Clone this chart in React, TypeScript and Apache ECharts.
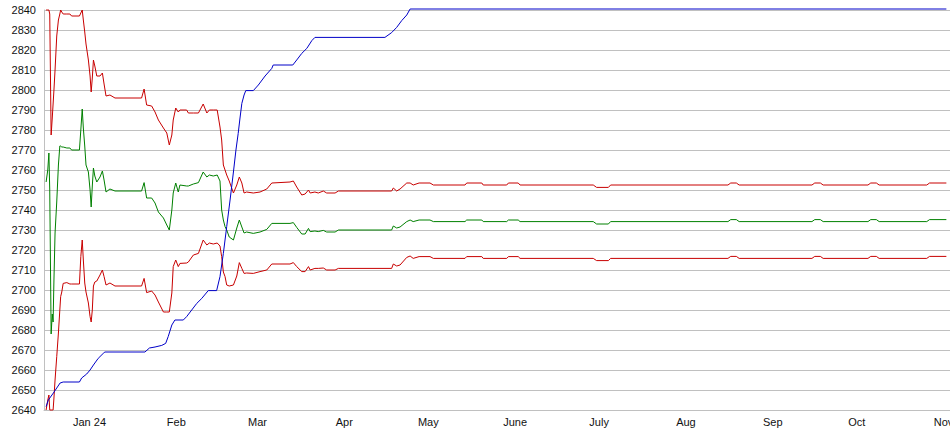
import React, { useEffect, useRef } from "react";
import * as echarts from "echarts";

// x values are days counted from 1 Jan 2024
const monthLabels = ["Jan 24", "Feb", "Mar", "Apr", "May", "June", "July", "Aug", "Sep", "Oct", "Nov"];
const monthStartDays = [0, 31, 60, 91, 121, 152, 182, 213, 244, 274, 305];

const bandDays = [
  -15.5, -14.9, -14.5, -14.2, -13.7, -13.3, -13.0, -12.7, -12.3, -11.7,
  -11.1, -10.6, -10.3, -9.9, -9.4, -8.1, -7.0, -6.4, -3.6, -3.1,
  -2.6, -2.2, -1.7, -1.25, -0.4, 0.2, 0.6, 1.0, 1.4, 1.9,
  2.6, 3.75, 4.6, 5.2, 5.9, 7.3, 9.1, 18.6, 19.5, 20.4,
  22.2, 23.4, 24.6, 26.4, 27.6, 28.5, 29.4, 29.9, 30.8, 31.7,
  32.3, 34.7, 35.3, 37.1, 38.9, 40.6, 41.9, 42.8, 44.2, 45.6,
  46.6, 47.2, 47.8, 48.4, 49.0, 49.9, 51.4, 52.6, 53.5, 54.4,
  55.2, 56.1, 58.5, 60.9, 63.3, 65.1, 71.6, 72.8, 74.0, 75.8,
  77.0, 78.2, 78.8, 80.5, 81.7, 83.5, 84.7, 87.7, 88.9, 107.9,
  108.5, 109.7, 110.9, 113.3, 114.5, 115.6, 117.7, 121.6, 122.8, 134.1,
  134.7, 140.1, 140.6, 149.0, 149.6, 153.1, 153.75, 179.9, 181.1, 185.3,
  186.1, 228, 229, 231, 232, 258, 259, 261, 262, 278,
  279, 281, 282, 299, 300, 306,
];

const upperValues = [
  2840, 2840, 2840, 2838, 2777.5, 2786, 2793, 2800, 2810, 2827,
  2835, 2838, 2840, 2839, 2838, 2838, 2838, 2837, 2837, 2838.5,
  2840, 2835, 2829, 2823, 2815, 2807, 2799, 2806, 2815, 2812,
  2807, 2807, 2808.5, 2803, 2797, 2797.5, 2796, 2796, 2800.5, 2792.5,
  2792, 2789, 2785, 2781, 2778.5, 2772.5, 2777.5, 2785, 2791, 2789,
  2790, 2790, 2788.5, 2788.5, 2788.5, 2793, 2788.5, 2790, 2790, 2790,
  2781.5, 2775, 2762.5, 2760, 2757.5, 2754.5, 2748.5, 2752.5, 2756.5, 2753.5,
  2748.5, 2749, 2748.5, 2749, 2750.5, 2753.5, 2754, 2754.5, 2751.5, 2747.5,
  2748, 2750, 2748.5, 2749, 2748.5, 2749.5, 2748.5, 2748.5, 2749.5, 2749.5,
  2751, 2749.5, 2750.5, 2753.5, 2753.5, 2752.5, 2753.5, 2753.5, 2752.5, 2752.5,
  2753.5, 2753.5, 2752.5, 2752.5, 2753.5, 2753.5, 2752.5, 2752.5, 2751.3, 2751.3,
  2752.5, 2752.5, 2753.5, 2753.5, 2752.5, 2752.5, 2753.5, 2753.5, 2752.5, 2752.5,
  2753.5, 2753.5, 2752.5, 2752.5, 2753.5, 2753.5,
];

const middleValues = [
  2754, 2760, 2768.5, 2750, 2678, 2688, 2684, 2705, 2728.5, 2744,
  2762.5, 2772, 2772, 2771.5, 2771.5, 2771, 2771, 2770, 2770, 2780,
  2790.5, 2781, 2772, 2762.5, 2759, 2750, 2741.5, 2752, 2761, 2757,
  2754, 2756.5, 2759.5, 2755, 2749, 2750.5, 2749.5, 2749.5, 2753.7, 2746,
  2746, 2743.5, 2739, 2736, 2732.5, 2730, 2740, 2748.5, 2753.5, 2749,
  2752.5, 2752, 2752, 2753, 2753.7, 2759, 2756.5, 2757.5, 2757, 2757.5,
  2754.5, 2740, 2735, 2731.7, 2730, 2726.5, 2725, 2731, 2735, 2731.5,
  2728.5, 2729, 2728.3, 2729, 2730.3, 2733.3, 2733.3, 2733.7, 2731.3, 2728,
  2728, 2730.8, 2729.2, 2729.5, 2729.2, 2729.8, 2729, 2729, 2730, 2730,
  2732, 2731, 2731.5, 2734.2, 2735, 2734.2, 2735, 2735, 2734.2, 2734.2,
  2735, 2735, 2734.2, 2734.2, 2735, 2735, 2734.2, 2734.2, 2733, 2733,
  2734.2, 2734.2, 2735.2, 2735.2, 2734.2, 2734.2, 2735.2, 2735.2, 2734.2, 2734.2,
  2735.2, 2735.2, 2734.2, 2734.2, 2735.2, 2735.2,
];

const lowerValues = [
  2640, 2645, 2647.5, 2640, 2640, 2640, 2640, 2646, 2655, 2666.7,
  2678.5, 2690, 2696.7, 2699, 2703.3, 2703.7, 2703, 2703, 2703, 2716.7,
  2725, 2715, 2703.5, 2699, 2693.5, 2686.7, 2684, 2690, 2702, 2704,
  2704.5, 2707.5, 2710, 2706.7, 2702.5, 2703.5, 2702, 2702, 2705.8, 2698.7,
  2699.5, 2697.5, 2694, 2689, 2689, 2689, 2698.5, 2711.7, 2715, 2711.7,
  2713.3, 2713.5, 2714, 2717.5, 2718.3, 2725, 2722.5, 2723.5, 2723, 2723.5,
  2722, 2716.7, 2709, 2706.7, 2702.5, 2702, 2702.5, 2707, 2713.7, 2710.8,
  2708.3, 2708.5, 2708.3, 2709.2, 2710, 2713, 2713, 2713.7, 2711.7, 2709.2,
  2709.2, 2711.7, 2710, 2710.8, 2710.8, 2711, 2710, 2710, 2710.8, 2710.8,
  2713, 2712, 2712.5, 2716.3, 2717, 2715.8, 2716.7, 2716.7, 2715.8, 2715.8,
  2716.7, 2716.7, 2715.8, 2715.8, 2716.7, 2716.7, 2715.8, 2715.8, 2714.7, 2714.7,
  2715.8, 2715.8, 2716.8, 2716.8, 2715.8, 2715.8, 2716.8, 2716.8, 2715.8, 2715.8,
  2716.8, 2716.8, 2715.8, 2715.8, 2716.8, 2716.8,
];

const blueDays = [
  -15.5, -14.7, -12.9, -11.7, -10.5, -9.4, -3.6, -2.8, -1.0, 0.2,
  1.4, 3.1, 4.9, 5.5, 19.8, 21.4, 23.4, 25.8, 27.2, 28.1,
  29.4, 30.5, 33.5, 34.7, 36.5, 38.3, 40.1, 42.4, 45.4, 46.6,
  47.8, 49.0, 50.2, 51.4, 52.3, 53.1, 53.75, 54.4, 55.2, 55.8,
  58.5, 60.3, 62.7, 65.1, 65.6, 72.6, 74.0, 75.8, 77.6, 79.4,
  80.5, 105.5, 107.9, 109.7, 111.5, 113.3, 114.5, 306,
];
const blueValues = [
  2641.7, 2645, 2648.5, 2651, 2653.5, 2654, 2654, 2656, 2658, 2660,
  2662.5, 2665.8, 2668.3, 2669, 2669, 2671, 2671.5, 2672.3, 2673.3, 2676.7,
  2682.5, 2685, 2685, 2686.7, 2690, 2693.3, 2695.8, 2699.7, 2699.7, 2706.7,
  2718.3, 2731.7, 2745, 2759, 2770, 2778.3, 2786, 2793.3, 2797.5, 2799.7,
  2799.7, 2802.5, 2807, 2810.8, 2812.5, 2812.5, 2815, 2818.3, 2820.8, 2824.7,
  2826.3, 2826.3, 2828.7, 2831.3, 2834.7, 2837.5, 2840.5, 2840.5,
];

const FONT = "'Liberation Sans', Arial, sans-serif";

function pairs(xs: number[], ys: number[]) {
  return xs.map((x, i) => [x, ys[i]]);
}

export default function App() {
  const ref = useRef<HTMLDivElement>(null);
  useEffect(() => {
    document.body.style.margin = "0";
    const chart = echarts.init(ref.current!, null, { renderer: "svg" });
    const lineSeries = (data: number[][], color: string) => ({
      type: "line",
      data,
      showSymbol: false,
      symbol: "none",
      clip: false,
      lineStyle: { color, width: 1 },
      itemStyle: { color },
    });
    chart.setOption({
      animation: false,
      textStyle: { fontFamily: FONT },
      grid: {
        left: 44,
        right: 0,
        top: 10,
        bottom: 25,
        containLabel: false,
        outerBoundsMode: "none",
      },
      xAxis: {
        type: "value",
        min: -16.25,
        max: 307.3,
        splitLine: { show: false },
        axisLine: { show: true, onZero: false, lineStyle: { color: "#c0c0c0", width: 1 } },
        axisTick: { show: false },
        axisLabel: {
          customValues: monthStartDays,
          formatter: (v: number) => {
            const i = monthStartDays.indexOf(Math.round(v));
            return i >= 0 ? monthLabels[i] : "";
          },
          color: "#111",
          fontSize: 11,
          fontFamily: FONT,
          margin: 6,
          hideOverlap: false,
          showMinLabel: true,
          showMaxLabel: true,
        },
      },
      yAxis: {
        type: "value",
        min: 2640,
        max: 2840,
        interval: 10,
        axisLine: { show: true, onZero: false, lineStyle: { color: "#c0c0c0", width: 1 } },
        axisTick: { show: false },
        splitLine: { show: true, lineStyle: { color: "#c0c0c0", width: 1 } },
        axisLabel: {
          color: "#111",
          fontSize: 11,
          fontFamily: FONT,
          margin: 8,
          formatter: (v: number) => String(v),
        },
      },
      series: [
        lineSeries(pairs(bandDays, upperValues), "#c80000"),
        lineSeries(pairs(bandDays, lowerValues), "#c80000"),
        lineSeries(pairs(bandDays, middleValues), "#008000"),
        lineSeries(pairs(blueDays, blueValues), "#0000c8"),
      ],
    });
    return () => chart.dispose();
  }, []);
  return <div ref={ref} style={{ width: 950, height: 435 }} />;
}
